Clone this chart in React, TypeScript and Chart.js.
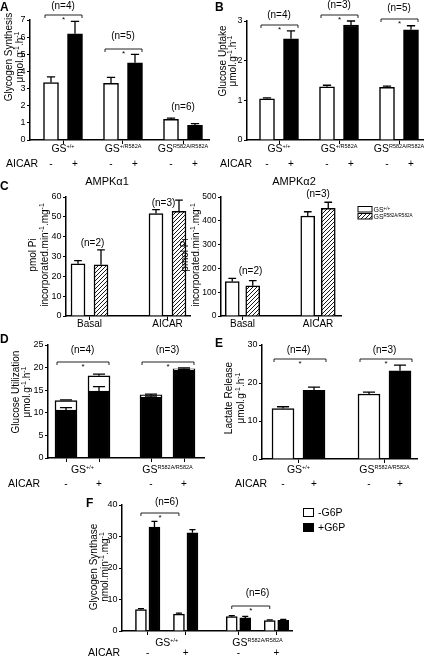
import React, { useEffect, useRef } from "react";
import { Chart, registerables } from "chart.js";

Chart.register(...registerables);

const FONT = '"Liberation Sans", Arimo, Arial, Helvetica, sans-serif';
const PAGE_W = 428;
const PAGE_H = 657;
const X_AXIS_H = 5;

// ================= DATA =================
const treatmentLabel = "AICAR";
const aicarMarks = ["-", "+"];

// A - glycogen synthesis
const genotypesABC = ["+/+", "+/R582A", "R582A/R582A"];
const synthBasal = [3.35, 3.3, 1.2];
const synthBasalSem = [0.33, 0.35, 0.08];
const synthAicar = [6.2, 4.5, 0.85];
const synthAicarSem = [0.72, 0.5, 0.1];
const synthN = ["(n=4)", "(n=5)", "(n=6)"];
const synthYTicks = [0, 1, 2, 3, 4, 5, 6, 7];

// B - glucose uptake
const uptakeBasal = [1.04, 1.34, 1.33];
const uptakeBasalSem = [0.02, 0.04, 0.03];
const uptakeAicar = [2.55, 2.9, 2.78];
const uptakeAicarSem = [0.2, 0.1, 0.1];
const uptakeN = ["(n=4)", "(n=3)", "(n=5)"];
const uptakeYTicks = [0, 1, 2, 3];

// C - AMPK activity
const ampkConditions = ["Basal", "AICAR"];
const ampkLegend = ["+/+", "R582A/R582A"];
const ampkTitles = ["AMPKα1", "AMPKα2"];
const a1Wt = [26.3, 51.7];
const a1WtSem = [1.6, 1.9];
const a1Ki = [25.8, 52.8];
const a1KiSem = [7.5, 5.6];
const a2Wt = [145, 420];
const a2WtSem = [13, 18];
const a2Ki = [127, 452];
const a2KiSem = [22, 26];
const ampkN = ["(n=2)", "(n=3)"];
const a1YTicks = [0, 10, 20, 30, 40, 50, 60];
const a2YTicks = [0, 100, 200, 300, 400, 500];

// D - glucose utilisation (stacked), bars: GS+/+ -,+ ; KI -,+
const genotypesDEF = ["+/+", "R582A/R582A"];
const utilLower = [10.6, 14.8, 13.4, 19.4];
const utilLowerSem = [0.55, 1.0, 0.3, 0.2];
const utilUpper = [2.1, 3.4, 0.55, 0.35];
const utilUpperSem = [0.15, 0.35, 0.2, 0.2];
const utilN = ["(n=4)", "(n=3)"];
const utilYTicks = [0, 5, 10, 15, 20, 25];

// E - lactate release
const lactateBasal = [13.3, 17.1];
const lactateBasalSem = [0.45, 0.5];
const lactateAicar = [18.1, 23.2];
const lactateAicarSem = [0.8, 1.5];
const lactateN = ["(n=4)", "(n=3)"];
const lactateYTicks = [0, 10, 20, 30];

// F - glycogen synthase activity, bars: GS+/+ -AICAR,+AICAR ; KI -AICAR,+AICAR
const gsMinusG6P = [6.8, 5.35, 4.55, 3.3];
const gsMinusG6PSem = [0.3, 0.35, 0.35, 0.25];
const gsPlusG6P = [33.0, 31.2, 4.15, 3.4];
const gsPlusG6PSem = [1.8, 1.0, 0.5, 0.25];
const gsActN = ["(n=6)", "(n=6)"];
const g6pLegend = ["-G6P", "+G6P"];
const gsActYTicks = [0, 10, 20, 30, 40];

// ================= LAYOUT =================
type Area = { left: number; right: number; top: number; bottom: number };
const LAYOUT = {
  A: { area: { left: 30, right: 209, top: 20, bottom: 140 }, g0: 63, step: 60, off: 12, bw: 15 },
  B: { area: { left: 247, right: 423, top: 21, bottom: 140 }, g0: 279, step: 60, off: 12, bw: 15 },
  C1: { area: { left: 66, right: 190, top: 197, bottom: 316 }, g0: 89.5, step: 78, off: 11.5, bw: 14 },
  C2: { area: { left: 221, right: 341, top: 197, bottom: 316 }, g0: 242.5, step: 75.5, off: 10.25, bw: 14 },
  D: { area: { left: 48, right: 204, top: 345, bottom: 458 }, g0: 82.5, step: 85, off: 16.5, bw: 22 },
  E: { area: { left: 262, right: 417, top: 345, bottom: 459 }, g0: 298.5, step: 86, off: 15.5, bw: 22 },
  F: { area: { left: 122, right: 292, top: 505, bottom: 631 }, g0: 166.7, step: 90.8, off: 19, bw: 11 },
};
const F_INNER_OFF = 6.75;

function axisOf(l: { area: Area; g0: number; step: number; off: number }) {
  return {
    xMin: (l.area.left - l.g0) / l.step,
    xMax: (l.area.right - l.g0) / l.step,
    o: l.off / l.step,
  };
}

// ================= DRAW HELPERS =================
type Ctx = CanvasRenderingContext2D;
type Fill = "white" | "black" | "hatch";
type BarSet = { xs: number[]; values: number[]; sems: number[]; fill: Fill; bases?: number[] };

interface PanelDef {
  area: Area;
  xMin: number;
  xMax: number;
  xTicks: number[];
  yTicks: number[];
  barWidth: number;
  sets: BarSet[];
  stacked?: boolean;
  tickFont?: number;
  decorate: (ctx: Ctx, sx: any, sy: any, hatch: CanvasPattern) => void;
}

const fnt = (size: number, bold = false) => `${bold ? "bold " : ""}${size}px ${FONT}`;

function text(
  ctx: Ctx,
  s: string,
  x: number,
  y: number,
  size: number,
  align: CanvasTextAlign = "center",
  baseline: CanvasTextBaseline = "middle",
  bold = false
) {
  ctx.save();
  ctx.font = fnt(size, bold);
  ctx.fillStyle = "#000";
  ctx.textAlign = align;
  ctx.textBaseline = baseline;
  ctx.fillText(s, x, y);
  ctx.restore();
}

function rich(ctx: Ctx, s: string, x: number, y: number, size: number, supSize: number, raise: number, align: "left" | "center" = "center") {
  const parts = s.split("^");
  ctx.save();
  ctx.fillStyle = "#000";
  ctx.textAlign = "left";
  ctx.textBaseline = "alphabetic";
  const widths = parts.map((t, i) => {
    ctx.font = fnt(i % 2 ? supSize : size);
    return ctx.measureText(t).width;
  });
  const total = widths.reduce((a, b) => a + b, 0);
  let cx = align === "center" ? x - total / 2 : x;
  parts.forEach((t, i) => {
    ctx.font = fnt(i % 2 ? supSize : size);
    ctx.fillText(t, cx, i % 2 ? y - raise : y);
    cx += widths[i];
  });
  ctx.restore();
}

function vRich(ctx: Ctx, s: string, x: number, cy: number, size: number) {
  ctx.save();
  ctx.translate(x, cy);
  ctx.rotate(-Math.PI / 2);
  rich(ctx, s, 0, size * 0.36, size, size * 0.7, size * 0.4);
  ctx.restore();
}

function bracket(ctx: Ctx, x1: number, x2: number, y: number) {
  ctx.save();
  ctx.strokeStyle = "#222";
  ctx.lineWidth = 1;
  ctx.beginPath();
  ctx.moveTo(x1, y + 3);
  ctx.lineTo(x1, y);
  ctx.lineTo(x2, y);
  ctx.lineTo(x2, y + 3);
  ctx.stroke();
  ctx.restore();
  text(ctx, "*", (x1 + x2) / 2, y + 5, 8);
}

function aicarRow(ctx: Ctx, labelX: number, baseline: number, minusXs: number[], plusXs: number[]) {
  text(ctx, treatmentLabel, labelX, baseline, 10.5, "left", "alphabetic");
  minusXs.forEach((x) => text(ctx, aicarMarks[0], x, baseline, 10, "center", "alphabetic"));
  plusXs.forEach((x) => text(ctx, aicarMarks[1], x, baseline, 10, "center", "alphabetic"));
}

function gsLabel(ctx: Ctx, sup: string, x: number, baseline: number) {
  rich(ctx, `GS^${sup}^`, x, baseline, 10.5, 5.5, 4);
}

function letter(ctx: Ctx, s: string, x: number, baseline: number) {
  text(ctx, s, x, baseline, 12, "left", "alphabetic", true);
}

function makeHatch(): CanvasPattern {
  const c = document.createElement("canvas");
  c.width = 4;
  c.height = 4;
  const g = c.getContext("2d")!;
  g.fillStyle = "#fff";
  g.fillRect(0, 0, 4, 4);
  g.strokeStyle = "#000";
  g.lineWidth = 0.9;
  g.beginPath();
  g.moveTo(-1, 1);
  g.lineTo(1, -1);
  g.moveTo(-1, 5);
  g.lineTo(5, -1);
  g.moveTo(3, 5);
  g.lineTo(5, 3);
  g.stroke();
  return g.createPattern(c, "repeat")!;
}

function buildConfig(p: PanelDef, hatch: CanvasPattern): any {
  const fillOf = (fl: Fill) => (fl === "black" ? "#000" : fl === "hatch" ? hatch : "#fff");
  return {
    type: "bar",
    data: {
      datasets: p.sets.map((s) => ({
        data: s.xs.map((x, i) => ({ x, y: s.values[i] })),
        backgroundColor: fillOf(s.fill),
        borderColor: "#000",
        borderWidth: 1.5,
        borderSkipped: "bottom",
        barThickness: p.barWidth,
        grouped: false,
      })),
    },
    options: {
      responsive: false,
      animation: false,
      devicePixelRatio: 1,
      events: [],
      layout: {
        padding: {
          left: 0,
          top: p.area.top,
          right: PAGE_W - p.area.right,
          bottom: PAGE_H - p.area.bottom - X_AXIS_H,
        },
      },
      plugins: { legend: { display: false }, tooltip: { enabled: false }, title: { display: false } },
      scales: {
        x: {
          type: "linear",
          min: p.xMin,
          max: p.xMax,
          offset: false,
          z: 1,
          afterBuildTicks: (sc: any) => {
            sc.ticks = p.xTicks.map((v) => ({ value: v }));
          },
          afterFit: (sc: any) => {
            sc.height = X_AXIS_H;
          },
          ticks: { display: false },
          grid: { offset: false, drawOnChartArea: false, drawTicks: true, tickLength: 4, color: "#000", lineWidth: 1 },
          border: { display: true, color: "#000", width: 1.5 },
        },
        y: {
          type: "linear",
          min: p.yTicks[0],
          max: p.yTicks[p.yTicks.length - 1],
          stacked: !!p.stacked,
          z: 1,
          afterBuildTicks: (sc: any) => {
            sc.ticks = p.yTicks.map((v) => ({ value: v }));
          },
          afterFit: (sc: any) => {
            sc.width = p.area.left;
          },
          ticks: { color: "#000", font: { family: FONT, size: p.tickFont ?? 9 }, padding: 1.5, callback: (v: any) => String(v) },
          grid: { drawOnChartArea: false, drawTicks: true, tickLength: 3, color: "#000", lineWidth: 1 },
          border: { display: true, color: "#000", width: 1.5 },
        },
      },
    },
    plugins: [
      {
        id: "decor",
        afterDatasetsDraw(chart: any) {
          const ctx: Ctx = chart.ctx;
          const sx = chart.scales.x;
          const sy = chart.scales.y;
          ctx.save();
          ctx.strokeStyle = "#000";
          ctx.lineWidth = 1.3;
          const cap = p.barWidth * 0.55;
          p.sets.forEach((s) =>
            s.xs.forEach((xv, i) => {
              const top = (s.bases ? s.bases[i] : 0) + s.values[i];
              const px = sx.getPixelForValue(xv);
              const y0 = sy.getPixelForValue(top);
              const y1 = sy.getPixelForValue(top + s.sems[i]);
              ctx.beginPath();
              ctx.moveTo(px, y0);
              ctx.lineTo(px, y1);
              ctx.moveTo(px - cap / 2, y1);
              ctx.lineTo(px + cap / 2, y1);
              ctx.stroke();
            })
          );
          ctx.restore();
        },
        afterDraw(chart: any) {
          p.decorate(chart.ctx, chart.scales.x, chart.scales.y, hatch);
        },
      },
    ],
  };
}

// ================= PANELS =================
function panels(): PanelDef[] {
  const la = LAYOUT.A;
  const ga = axisOf(la);
  const idxA = genotypesABC.map((_, i) => i);
  const A: PanelDef = {
    area: la.area,
    xMin: ga.xMin,
    xMax: ga.xMax,
    xTicks: idxA,
    yTicks: synthYTicks,
    barWidth: la.bw,
    sets: [
      { xs: idxA.map((i) => i - ga.o), values: synthBasal, sems: synthBasalSem, fill: "white" },
      { xs: idxA.map((i) => i + ga.o), values: synthAicar, sems: synthAicarSem, fill: "black" },
    ],
    decorate: (ctx, sx) => {
      letter(ctx, "A", 0, 11);
      vRich(ctx, "Glycogen Synthesis", 8, 57, 10);
      vRich(ctx, "μmol.g^-1^.h^-1^", 19.5, 57, 10);
      idxA.forEach((i) => gsLabel(ctx, genotypesABC[i], sx.getPixelForValue(i), 152));
      aicarRow(
        ctx,
        6,
        167,
        idxA.map((i) => sx.getPixelForValue(i - ga.o)),
        idxA.map((i) => sx.getPixelForValue(i + ga.o))
      );
      const nY = [6, 36, 107];
      const brY = [15, 49, -1];
      idxA.forEach((i) => {
        text(ctx, synthN[i], sx.getPixelForValue(i), nY[i], 10);
        if (brY[i] > 0) bracket(ctx, sx.getPixelForValue(i - ga.o) - 6, sx.getPixelForValue(i + ga.o) + 7, brY[i]);
      });
    },
  };

  const lb = LAYOUT.B;
  const gb = axisOf(lb);
  const B: PanelDef = {
    area: lb.area,
    xMin: gb.xMin,
    xMax: gb.xMax,
    xTicks: idxA,
    yTicks: uptakeYTicks,
    barWidth: lb.bw,
    sets: [
      { xs: idxA.map((i) => i - gb.o), values: uptakeBasal, sems: uptakeBasalSem, fill: "white" },
      { xs: idxA.map((i) => i + gb.o), values: uptakeAicar, sems: uptakeAicarSem, fill: "black" },
    ],
    decorate: (ctx, sx) => {
      letter(ctx, "B", 215, 11);
      vRich(ctx, "Glucose Uptake", 222, 61, 10);
      vRich(ctx, "μmol.g^-1^.h^-1^", 232, 61, 10);
      idxA.forEach((i) => gsLabel(ctx, genotypesABC[i], sx.getPixelForValue(i), 152));
      aicarRow(
        ctx,
        220,
        167,
        idxA.map((i) => sx.getPixelForValue(i - gb.o)),
        idxA.map((i) => sx.getPixelForValue(i + gb.o))
      );
      const nY = [15, 5, 8];
      const brY = [25, 15, 19];
      idxA.forEach((i) => {
        text(ctx, uptakeN[i], sx.getPixelForValue(i), nY[i], 10);
        bracket(ctx, sx.getPixelForValue(i - gb.o) - 6, sx.getPixelForValue(i + gb.o) + 7, brY[i]);
      });
    },
  };

  const idxC = ampkConditions.map((_, i) => i);
  const lc1 = LAYOUT.C1;
  const gc1 = axisOf(lc1);
  const C1: PanelDef = {
    area: lc1.area,
    xMin: gc1.xMin,
    xMax: gc1.xMax,
    xTicks: idxC,
    yTicks: a1YTicks,
    barWidth: lc1.bw,
    sets: [
      { xs: idxC.map((i) => i - gc1.o), values: a1Wt, sems: a1WtSem, fill: "white" },
      { xs: idxC.map((i) => i + gc1.o), values: a1Ki, sems: a1KiSem, fill: "hatch" },
    ],
    decorate: (ctx, sx) => {
      letter(ctx, "C", 0, 190);
      text(ctx, ampkTitles[0], 107, 182, 11);
      vRich(ctx, "pmol Pi", 32, 255, 10);
      vRich(ctx, "incorporated.min^-1^.mg^-1^", 44, 255, 10);
      idxC.forEach((i) => text(ctx, ampkConditions[i], sx.getPixelForValue(i), 327, 10, "center", "alphabetic"));
      text(ctx, ampkN[0], sx.getPixelForValue(0) + 3, 243, 10);
      text(ctx, ampkN[1], sx.getPixelForValue(1) - 4, 203, 10);
    },
  };

  const lc2 = LAYOUT.C2;
  const gc2 = axisOf(lc2);
  const C2: PanelDef = {
    area: lc2.area,
    xMin: gc2.xMin,
    xMax: gc2.xMax,
    xTicks: idxC,
    yTicks: a2YTicks,
    barWidth: lc2.bw,
    tickFont: 8.5,
    sets: [
      { xs: idxC.map((i) => i - gc2.o), values: a2Wt, sems: a2WtSem, fill: "white" },
      { xs: idxC.map((i) => i + gc2.o), values: a2Ki, sems: a2KiSem, fill: "hatch" },
    ],
    decorate: (ctx, sx, _sy, hatch) => {
      text(ctx, ampkTitles[1], 294, 182, 11);
      vRich(ctx, "pmol Pi", 184, 255, 10);
      vRich(ctx, "incorporated.min^-1^.mg^-1^", 195.5, 255, 10);
      idxC.forEach((i) => text(ctx, ampkConditions[i], sx.getPixelForValue(i), 327, 10, "center", "alphabetic"));
      text(ctx, ampkN[0], sx.getPixelForValue(0) + 8, 271, 10);
      text(ctx, ampkN[1], sx.getPixelForValue(1), 194, 10);
      // legend
      ctx.save();
      ctx.strokeStyle = "#000";
      ctx.lineWidth = 1;
      ctx.fillStyle = "#fff";
      ctx.fillRect(358, 206.5, 14, 5.5);
      ctx.strokeRect(358, 206.5, 14, 5.5);
      ctx.fillStyle = hatch;
      ctx.fillRect(358, 213.5, 14, 5.5);
      ctx.strokeRect(358, 213.5, 14, 5.5);
      ctx.restore();
      rich(ctx, `GS^${ampkLegend[0]}^`, 373.5, 212, 7, 4.5, 2.5, "left");
      rich(ctx, `GS^${ampkLegend[1]}^`, 373.5, 219, 7, 4.5, 2.5, "left");
    },
  };

  const idxG = genotypesDEF.map((_, i) => i);
  const ld = LAYOUT.D;
  const gd = axisOf(ld);
  const dXs = idxG.flatMap((i) => [i - gd.o, i + gd.o]);
  const D: PanelDef = {
    area: ld.area,
    xMin: gd.xMin,
    xMax: gd.xMax,
    xTicks: dXs,
    yTicks: utilYTicks,
    barWidth: ld.bw,
    stacked: true,
    sets: [
      { xs: dXs, values: utilLower, sems: utilLowerSem, fill: "black" },
      { xs: dXs, values: utilUpper, sems: utilUpperSem, fill: "white", bases: utilLower },
    ],
    decorate: (ctx, sx) => {
      letter(ctx, "D", 0, 343);
      vRich(ctx, "Glucose Utilization", 15, 392, 10);
      vRich(ctx, "μmol.g^-1^.h^-1^", 26, 392, 10);
      idxG.forEach((i) => gsLabel(ctx, genotypesDEF[i], sx.getPixelForValue(i), 473));
      aicarRow(
        ctx,
        8,
        487,
        idxG.map((i) => sx.getPixelForValue(i - gd.o)),
        idxG.map((i) => sx.getPixelForValue(i + gd.o))
      );
      idxG.forEach((i) => {
        text(ctx, utilN[i], sx.getPixelForValue(i), 350, 10);
        bracket(ctx, sx.getPixelForValue(i - gd.o) - 9, sx.getPixelForValue(i + gd.o) + 10, 362);
      });
    },
  };

  const le = LAYOUT.E;
  const ge = axisOf(le);
  const E: PanelDef = {
    area: le.area,
    xMin: ge.xMin,
    xMax: ge.xMax,
    xTicks: idxG,
    yTicks: lactateYTicks,
    barWidth: le.bw,
    sets: [
      { xs: idxG.map((i) => i - ge.o), values: lactateBasal, sems: lactateBasalSem, fill: "white" },
      { xs: idxG.map((i) => i + ge.o), values: lactateAicar, sems: lactateAicarSem, fill: "black" },
    ],
    decorate: (ctx, sx) => {
      letter(ctx, "E", 215, 347);
      vRich(ctx, "Lactate Release", 228, 398, 10);
      vRich(ctx, "μmol.g^-1^.h^-1^", 240, 398, 10);
      idxG.forEach((i) => gsLabel(ctx, genotypesDEF[i], sx.getPixelForValue(i), 473));
      aicarRow(
        ctx,
        235,
        487,
        idxG.map((i) => sx.getPixelForValue(i - ge.o)),
        idxG.map((i) => sx.getPixelForValue(i + ge.o))
      );
      idxG.forEach((i) => {
        text(ctx, lactateN[i], sx.getPixelForValue(i), 350, 10);
        bracket(ctx, sx.getPixelForValue(i - ge.o) - 9, sx.getPixelForValue(i + ge.o) + 12, 359);
      });
    },
  };

  const lf = LAYOUT.F;
  const gf = axisOf(lf);
  const fi = F_INNER_OFF / lf.step;
  const pairXs = idxG.flatMap((i) => [i - gf.o, i + gf.o]);
  const F: PanelDef = {
    area: lf.area,
    xMin: gf.xMin,
    xMax: gf.xMax,
    xTicks: pairXs,
    yTicks: gsActYTicks,
    barWidth: lf.bw,
    sets: [
      { xs: pairXs.map((x) => x - fi), values: gsMinusG6P, sems: gsMinusG6PSem, fill: "white" },
      { xs: pairXs.map((x) => x + fi), values: gsPlusG6P, sems: gsPlusG6PSem, fill: "black" },
    ],
    decorate: (ctx, sx) => {
      letter(ctx, "F", 86, 507);
      vRich(ctx, "Glycogen Synthase", 93, 567, 10);
      vRich(ctx, "nmol.min^-1^.mg^-1^", 104, 567, 10);
      idxG.forEach((i) => gsLabel(ctx, genotypesDEF[i], sx.getPixelForValue(i), 646));
      aicarRow(
        ctx,
        88,
        656,
        idxG.map((i) => sx.getPixelForValue(i - gf.o)),
        idxG.map((i) => sx.getPixelForValue(i + gf.o))
      );
      const nY = [502, 593];
      const brY = [513, 606];
      idxG.forEach((i) => {
        text(ctx, gsActN[i], sx.getPixelForValue(i), nY[i], 10);
        bracket(ctx, sx.getPixelForValue(i - gf.o - fi), sx.getPixelForValue(i + gf.o - fi), brY[i]);
      });
      // legend
      ctx.save();
      ctx.strokeStyle = "#000";
      ctx.lineWidth = 1;
      ctx.fillStyle = "#fff";
      ctx.fillRect(303.5, 508.5, 10, 8);
      ctx.strokeRect(303.5, 508.5, 10, 8);
      ctx.fillStyle = "#000";
      ctx.fillRect(303.5, 523.5, 10, 8);
      ctx.strokeRect(303.5, 523.5, 10, 8);
      ctx.restore();
      text(ctx, g6pLegend[0], 318, 513, 10.5, "left", "middle");
      text(ctx, g6pLegend[1], 318, 528, 10.5, "left", "middle");
    },
  };

  return [A, B, C1, C2, D, E, F];
}

export default function App() {
  const refs = useRef<(HTMLCanvasElement | null)[]>([]);
  const defs = panels();

  useEffect(() => {
    const hatch = makeHatch();
    const charts = defs.map((d, i) => new Chart(refs.current[i]!, buildConfig(d, hatch)));
    return () => charts.forEach((c) => c.destroy());
  }, []);

  return (
    <div style={{ position: "absolute", left: 0, top: 0, width: PAGE_W, height: PAGE_H, background: "#fff" }}>
      {defs.map((_, i) => (
        <canvas
          key={i}
          ref={(el) => {
            refs.current[i] = el;
          }}
          width={PAGE_W}
          height={PAGE_H}
          style={{ position: "absolute", left: 0, top: 0, width: PAGE_W, height: PAGE_H }}
        />
      ))}
    </div>
  );
}
